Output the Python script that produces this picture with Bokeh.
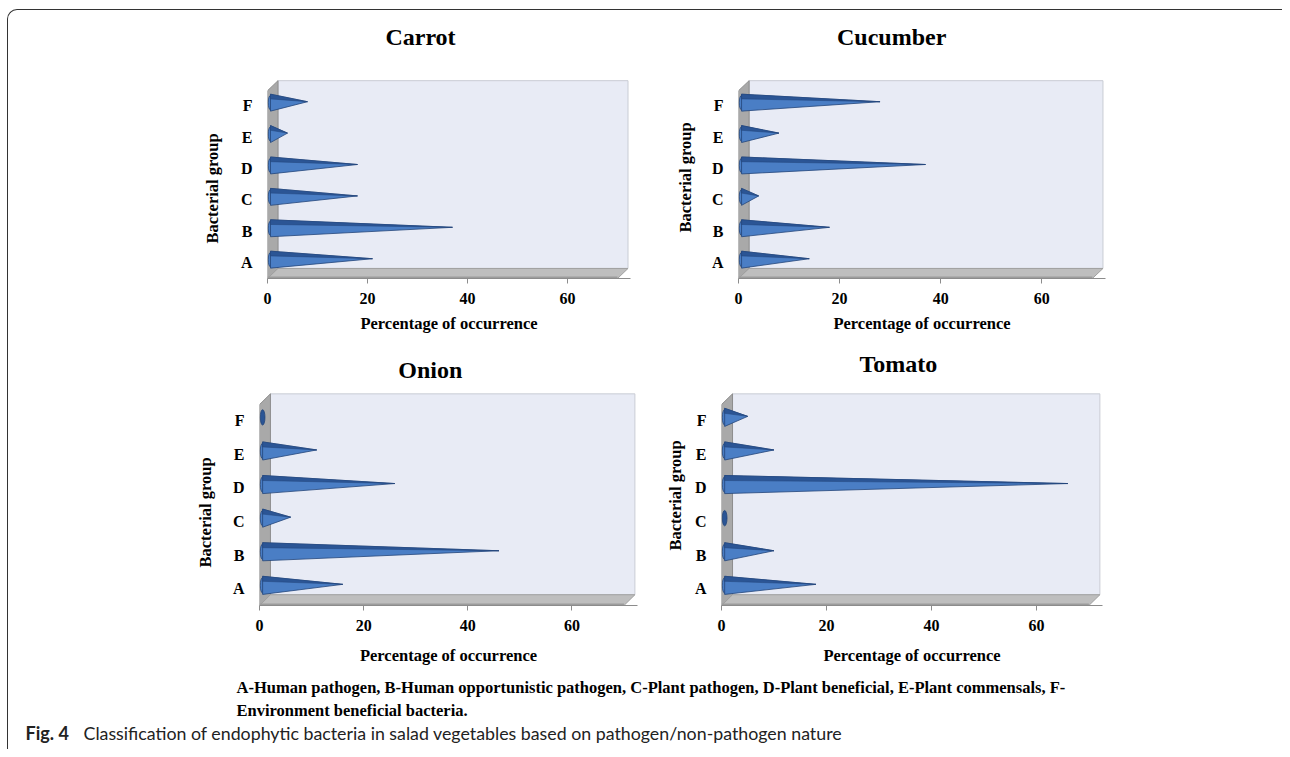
from bokeh.plotting import figure
from bokeh.layouts import column, row
from bokeh.models import Spacer, FixedTicker, Label, Title
from bokeh.embed import file_html
from bokeh.resources import INLINE

# ---------------- data ----------------
groups = ["A", "B", "C", "D", "E", "F"]
carrot = [21, 37, 18, 18, 4, 8]
cucumber = [14, 18, 4, 37, 8, 28]
onion = [16, 46, 6, 26, 11, 0]
tomato = [18, 10, 0, 66, 10, 5]
x_ticks = [0, 20, 40, 60]
x_max = 70
x_label = "Percentage of occurrence"
y_label = "Bacterial group"
footer1 = ("A-Human pathogen, B-Human opportunistic pathogen, C-Plant pathogen, "
           "D-Plant beneficial, E-Plant commensals, F-")
footer2 = "Environment  beneficial bacteria."
caption_bold = "Fig. 4"
caption_rest = ("Classification of endophytic bacteria in salad vegetables based on "
                "pathogen/non-pathogen nature")

SERIF = "Liberation Serif"
DX, DY = 2.1, 0.32          # pseudo-3D depth (x units, y units)
Y0, YTOP = -0.5, 5.8
WALL = "#E8EBF5"
SIDE = "#A9A9A9"
FLOOR = "#BEBEBE"
CONE = "#4A7EC5"
CONE_DARK = "#2B5595"
CONE_LINE = "#23457A"


def make_panel(name, vals, fw, fh, y_end, bl, br, bt, bb, t_x, t_y, xl_stand,
               yl_offset, yl_standoff):
    p = figure(width=bl + fw + br, height=bt + fh + bb,
               x_range=(0, x_max + DX + 0.5), y_range=(Y0, y_end),
               min_border_left=bl, min_border_right=br,
               min_border_top=bt, min_border_bottom=bb,
               output_backend="svg", toolbar_location=None, tools="")
    p.outline_line_color = None
    p.xgrid.visible = False
    p.ygrid.visible = False
    p.background_fill_color = "white"
    p.border_fill_color = "white"

    # back wall
    p.quad(left=[DX], right=[x_max + DX], bottom=[Y0 + DY], top=[YTOP],
           fill_color=WALL, line_color="#C9CCD4", line_width=1)
    # left wall
    p.patch(x=[0, DX, DX, 0], y=[Y0, Y0 + DY, YTOP, YTOP - DY],
            fill_color=SIDE, line_color="#8E8E8E", line_width=1)
    # floor
    p.patch(x=[0, x_max, x_max + DX, DX], y=[Y0, Y0, Y0 + DY, Y0 + DY],
            fill_color=FLOOR, line_color="#A0A0A0", line_width=1)
    p.quad(left=[0], right=[x_max], bottom=[Y0], top=[Y0 + 0.06],
           fill_color="#9C9C9C", line_color=None)

    # cones
    x0, h = 0.6, 0.27
    xs_l, ys_l, xs_d, ys_d = [], [], [], []
    ex, ey, ecol = [], [], []
    for i, v in enumerate(vals):
        c = i + 0.1
        ex.append(x0)
        ey.append(c)
        if v > 0:
            ecol.append(CONE)
            xs_l.append([x0, x0, v])
            ys_l.append([c - h, c + h, c + 0.03])
            xs_d.append([x0, v, x0])
            ys_d.append([c + h, c + 0.03, c + 0.12])
        else:
            ecol.append(CONE_DARK)
    p.ellipse(x=ex, y=ey, width=0.9, height=2 * h * 0.85, fill_color=ecol,
              line_color=CONE_LINE, line_width=0.8)
    p.patches(xs=xs_l, ys=ys_l, fill_color=CONE, line_color=CONE_LINE, line_width=0.8)
    p.patches(xs=xs_d, ys=ys_d, fill_color=CONE_DARK, line_color=CONE_LINE, line_width=0.5)

    # panel title
    p.add_layout(Label(x=t_x, y=t_y, text=name, text_align="center", text_baseline="middle",
                       text_font=SERIF, text_font_size="24px", text_font_style="bold",
                       text_color="black"))

    xa = p.xaxis[0]
    xa.ticker = FixedTicker(ticks=x_ticks)
    xa.axis_line_color = "#8C8C8C"
    xa.major_tick_line_color = "#8C8C8C"
    xa.major_tick_out = 5
    xa.major_tick_in = 0
    xa.minor_tick_line_color = None
    xa.major_label_standoff = 9
    xa.major_label_text_font = SERIF
    xa.major_label_text_font_size = "16px"
    xa.major_label_text_font_style = "bold"
    xa.major_label_text_color = "black"
    xa.axis_label = x_label
    xa.axis_label_standoff = xl_stand
    xa.axis_label_text_font = SERIF
    xa.axis_label_text_font_size = "16.5px"
    xa.axis_label_text_font_style = "bold"
    xa.axis_label_text_color = "black"

    ya = p.yaxis[0]
    ya.ticker = FixedTicker(ticks=list(range(len(groups))))
    ya.major_label_overrides = {i: g for i, g in enumerate(groups)}
    ya.axis_line_color = None
    ya.major_tick_line_color = None
    ya.minor_tick_line_color = None
    ya.major_tick_out = 0
    ya.major_label_standoff = 15
    ya.major_label_text_font = SERIF
    ya.major_label_text_font_size = "16px"
    ya.major_label_text_font_style = "bold"
    ya.major_label_text_color = "black"

    # y-axis title (placed in the left panel, outside the tick labels)
    p.add_layout(Title(text=y_label, align="left", offset=yl_offset, standoff=yl_standoff,
                       text_font=SERIF, text_font_size="16.5px", text_font_style="bold",
                       text_color="black"), "left")
    return p


p_carrot = make_panel("Carrot", carrot, 363, 260, 7.78, 117, 20, 8, 63, 30.6, 7.18, 7, 35, 31)
p_cucumber = make_panel("Cucumber", cucumber, 367, 260, 7.78, 88, 177, 8, 63, 30.3, 7.18, 7, 46, 28)
p_onion = make_panel("Onion", onion, 378, 255, 7.09, 109, 13, 9, 63, 32.8, 6.52, 12, 38, 30)
p_tomato = make_panel("Tomato", tomato, 381, 255, 7.09, 71, 180, 9, 63, 33.7, 6.70, 12, 55, 14)

# footer / caption
pf = figure(width=1274, height=81, x_range=(0, 1274), y_range=(0, 81),
            min_border=0, output_backend="svg", toolbar_location=None, tools="")
pf.axis.visible = False
pf.grid.visible = False
pf.outline_line_color = None
pf.add_layout(Label(x=228, y=62, text=footer1, text_font=SERIF, text_font_size="16.5px",
                    text_font_style="bold", text_baseline="middle", text_color="black"))
pf.add_layout(Label(x=228, y=39, text=footer2, text_font=SERIF, text_font_size="16.5px",
                    text_font_style="bold", text_baseline="middle", text_color="black"))
pf.add_layout(Label(x=17, y=17, text=caption_bold, text_font="Lato", text_font_size="18px",
                    text_font_style="bold", text_baseline="middle", text_color="#222222"))
pf.add_layout(Label(x=75, y=17, text=caption_rest, text_font="Lato", text_font_size="17.8px",
                    text_baseline="middle", text_color="#222222"))

inner = column(
    row(Spacer(width=142, height=331), p_carrot, p_cucumber),
    row(Spacer(width=142, height=327), p_onion, p_tomato),
    pf,
    styles={"border-left": "1.5px solid #333333", "border-top": "1.5px solid #333333",
            "border-top-left-radius": "10px"},
)
layout = column(Spacer(height=9), row(Spacer(width=7), inner))

open("out.html", "w").write(file_html(layout, INLINE))
